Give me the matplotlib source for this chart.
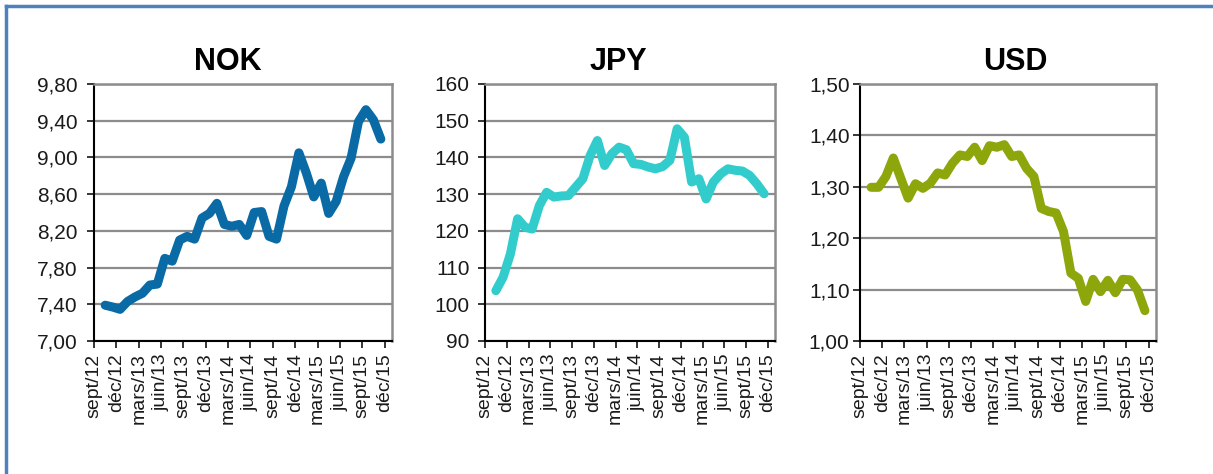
import numpy as np
import matplotlib.pyplot as plt
from matplotlib.lines import Line2D
from matplotlib.ticker import FuncFormatter

plt.rcParams['font.family'] = ['Liberation Sans', 'DejaVu Sans']

# libellés trimestriels de l'axe des x (sept/12 -> déc/15)
mois = ['sept/12', 'déc/12', 'mars/13', 'juin/13', 'sept/13', 'déc/13', 'mars/14',
        'juin/14', 'sept/14', 'déc/14', 'mars/15', 'juin/15', 'sept/15', 'déc/15']

# moyennes mensuelles oct/12 -> nov/15
nok = [7.39, 7.37, 7.345, 7.43, 7.48, 7.52, 7.61, 7.62, 7.90, 7.87, 8.10, 8.14, 8.11,
       8.34, 8.39, 8.50, 8.27, 8.25, 8.27, 8.15, 8.40, 8.41, 8.14, 8.11, 8.47, 8.68,
       9.05, 8.83, 8.57, 8.72, 8.39, 8.52, 8.79, 8.99, 9.39, 9.52, 9.41, 9.20]
jpy = [103.7, 107.4, 113.7, 123.3, 121.0, 120.5, 126.9, 130.5, 129.2, 129.5, 129.6,
       131.9, 134.2, 140.5, 144.6, 137.8, 141.0, 142.8, 142.1, 138.3, 138.1, 137.4,
       136.9, 137.5, 139.2, 147.8, 145.5, 133.3, 134.2, 128.7, 133.3, 135.5, 136.9,
       136.5, 136.3, 135.1, 132.8, 130.1]
usd = [1.299, 1.299, 1.320, 1.356, 1.317, 1.278, 1.306, 1.297, 1.307, 1.327, 1.323,
       1.346, 1.362, 1.359, 1.377, 1.351, 1.380, 1.377, 1.382, 1.359, 1.362, 1.336,
       1.320, 1.258, 1.252, 1.249, 1.213, 1.132, 1.122, 1.077, 1.120, 1.096, 1.118,
       1.094, 1.120, 1.119, 1.099, 1.059]

W, H = 1213, 474
fig = plt.figure(figsize=(W / 100, H / 100), dpi=100)

# cadre bleu (haut et gauche)
fig.add_artist(Line2D([6 / W, 1], [1 - 6 / H, 1 - 6 / H], color='#4F81BD', lw=2.5))
fig.add_artist(Line2D([6 / W, 6 / W], [0, 1 - 6 / H], color='#4F81BD', lw=2.5))

panneaux = [
    ('NOK', nok, '#0A6AA6', (94, 298), (7.0, 9.8, 0.4), 2, 7, 228),
    ('JPY', jpy, '#33CCCC', (485, 290), (90, 160, 10), 0, 6, 618),
    ('USD', usd, '#8DA60C', (860, 296), (1.0, 1.5, 0.1), 2, 2.5, 1015),
]

for titre, serie, coul, (gx, lw_px), (ymin, ymax, pas), dec, pad, tx in panneaux:
    ax = fig.add_axes([gx / W, (H - 341) / H, lw_px / W, 257 / H])
    x = np.arange(len(serie)) + 1.5
    ax.plot(x, serie, color=coul, lw=6.5, solid_capstyle='round', solid_joinstyle='round',
            zorder=3)
    ax.set_xlim(0, 40)
    ax.set_ylim(ymin, ymax)
    ax.set_yticks(np.arange(ymin, ymax + pas / 2, pas))
    fmt = '{:.%df}' % dec
    ax.yaxis.set_major_formatter(FuncFormatter(lambda v, p, f=fmt: f.format(v).replace('.', ',')))
    ax.set_xticks(np.arange(0, 40, 3))
    ax.set_xticklabels(mois, rotation=90, fontsize=14, color='#1a1a1a')
    ax.tick_params(axis='y', labelsize=15, labelcolor='#1a1a1a', length=5, width=1.1,
                   pad=pad)
    ax.tick_params(axis='x', length=5, width=1.1, pad=4)
    ax.grid(axis='y', color='#8C8C8C', lw=1.6, zorder=1)
    ax.set_axisbelow(True)
    for s in ['left', 'bottom']:
        ax.spines[s].set_color('black')
        ax.spines[s].set_linewidth(1.5)
    for s in ['top', 'right']:
        ax.spines[s].set_color('#8C8C8C')
        ax.spines[s].set_linewidth(1.8)
    fig.text(tx / W, 1 - 62 / H, titre, ha='center', va='center', fontsize=22,
             fontweight='bold')

fig.savefig('out.png', dpi=100)
